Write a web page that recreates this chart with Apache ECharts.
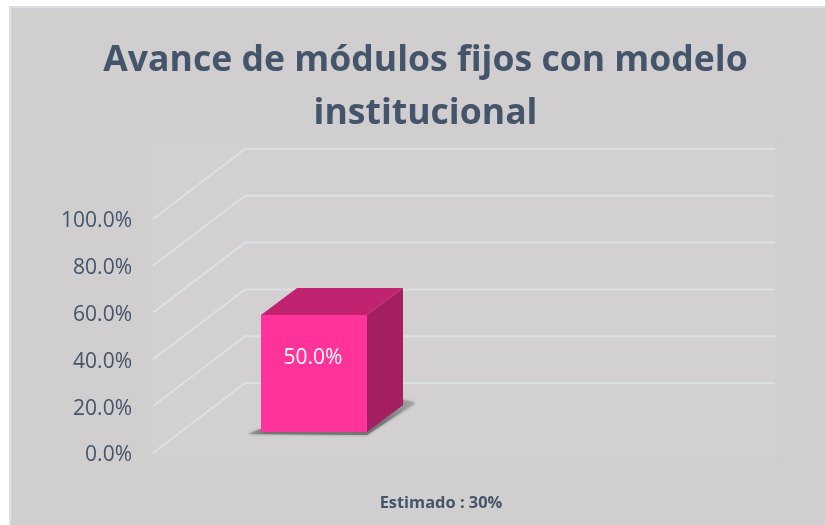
<!DOCTYPE html>
<html><head><meta charset="utf-8">
<script src="https://cdn.jsdelivr.net/npm/echarts@6/dist/echarts.min.js"></script>
<style>html,body{margin:0;padding:0;background:#fff}#c{width:825px;height:525px}</style>
</head><body><div id="c"></div>
<script>
const titleText = 'Avance de módulos fijos con modelo\ninstitucional';
const categories = ['Estimado : 30%'];
const seriesValues = [50];
const tickValues = [0, 20, 40, 60, 80, 100];

const ink = '#44546a';
const wallDx = 92, wallDy = -70;      // depth of the 3D box
const barDy = -21;                    // bar's placement inside the depth
const barDepthX = 36, barDepthY = -27;
const barW = 106, barShift = -157.5;  // from the category centre

const chart = echarts.init(document.getElementById('c'), null, {renderer: 'canvas'});
chart.setOption({
  animation: false,
  backgroundColor: '#fff',
  title: {
    text: titleText, left: 420.5, top: 29, textAlign: 'center',
    textStyle: {fontFamily: 'Open Sans', fontSize: 35.6, fontWeight: 'bold', color: ink, lineHeight: 53}
  },
  graphic: [
    {type: 'rect', z: -10, shape: {x: 10, y: 7, width: 830, height: 530},
     style: {fill: '#d0cece', stroke: '#dce0e4', lineWidth: 2}},
    {type: 'rect', z: -9, shape: {x: 150, y: 143, width: 631, height: 314},
     style: {fill: '#d2d0d1'}}
  ],
  grid: {left: 153, top: 219, width: 531, height: 234, containLabel: false},
  xAxis: {
    type: 'category', data: categories,
    axisLine: {show: false}, axisTick: {show: false},
    axisLabel: {margin: 42, padding: [0, 0, 0, 45], fontFamily: 'Open Sans', fontWeight: 'bold', fontSize: 16.4, color: ink}
  },
  yAxis: {
    type: 'value', min: 0, max: 100, interval: 20,
    splitLine: {show: false}, axisLine: {show: false}, axisTick: {show: false},
    axisLabel: {margin: 21, fontFamily: 'Open Sans', fontSize: 21, color: ink,
      formatter: v => '{a|' + v.toFixed(1) + '%}',
      rich: {a: {fontFamily: 'Open Sans', fontSize: 21, color: ink, padding: [5, 0, 0, 0]}}}
  },
  series: [
    {
      type: 'custom', coordinateSystem: 'cartesian2d', clip: false, z: 2, silent: true,
      data: tickValues.map(v => [0, v]),
      encode: {x: 0, y: 1},
      renderItem(params, api) {
        const p = api.coord([0, api.value(1)]);
        const cs = params.coordSys;
        const x0 = cs.x, x1 = cs.x + wallDx, x2 = cs.x + cs.width + wallDx - 1;
        return {type: 'polyline', shape: {points: [[x0, p[1]], [x1, p[1] + wallDy], [x2, p[1] + wallDy]]},
          style: {fill: null, stroke: '#dde0e3', lineWidth: 2}};
      }
    },
    {
      type: 'custom', coordinateSystem: 'cartesian2d', clip: false, z: 3, silent: true,
      data: seriesValues.map((v, i) => [i, v]),
      encode: {x: 0, y: 1},
      renderItem(params, api) {
        const c = api.coord([api.value(0), api.value(1)]);
        const b = api.coord([api.value(0), 0]);
        const l = c[0] + barShift - barW / 2 + 53, r = l + barW;
        const top = c[1] + barDy, bot = b[1] + barDy;
        const dx = barDepthX, dy = barDepthY;
        return {type: 'group', children: [
          {type: 'polygon', shape: {points: [[l - 13, bot + 2], [r, bot + 3], [r + 48, bot - 29], [r + 36, bot - 32], [r, bot - 4], [l, bot - 3]]},
           style: {fill: new echarts.graphic.LinearGradient(0, 0, 1, 0, [
             {offset: 0, color: '#a3a2a3'}, {offset: 0.1, color: '#737475'}, {offset: 0.8, color: '#737576'}, {offset: 1, color: '#a9a9a9'}]),
             shadowBlur: 3, shadowColor: 'rgba(90,90,90,0.6)'}},
          {type: 'polygon', shape: {points: [[l, top], [l + dx, top + dy], [r + dx, top + dy], [r, top]]},
           style: {fill: '#c22371'}},
          {type: 'polygon', shape: {points: [[r, top], [r + dx, top + dy], [r + dx, bot + dy], [r, bot]]},
           style: {fill: '#a41f62'}},
          {type: 'rect', shape: {x: l, y: top, width: barW, height: bot - top},
           style: {fill: '#ff3399'}},
          {type: 'text', x: (l + r) / 2 - 1, y: top + 43,
           style: {text: api.value(1).toFixed(1) + '%', fill: '#fff', fontFamily: 'Open Sans', fontSize: 21,
             align: 'center', verticalAlign: 'middle'}}
        ]};
      }
    }
  ]
});
</script></body></html>
